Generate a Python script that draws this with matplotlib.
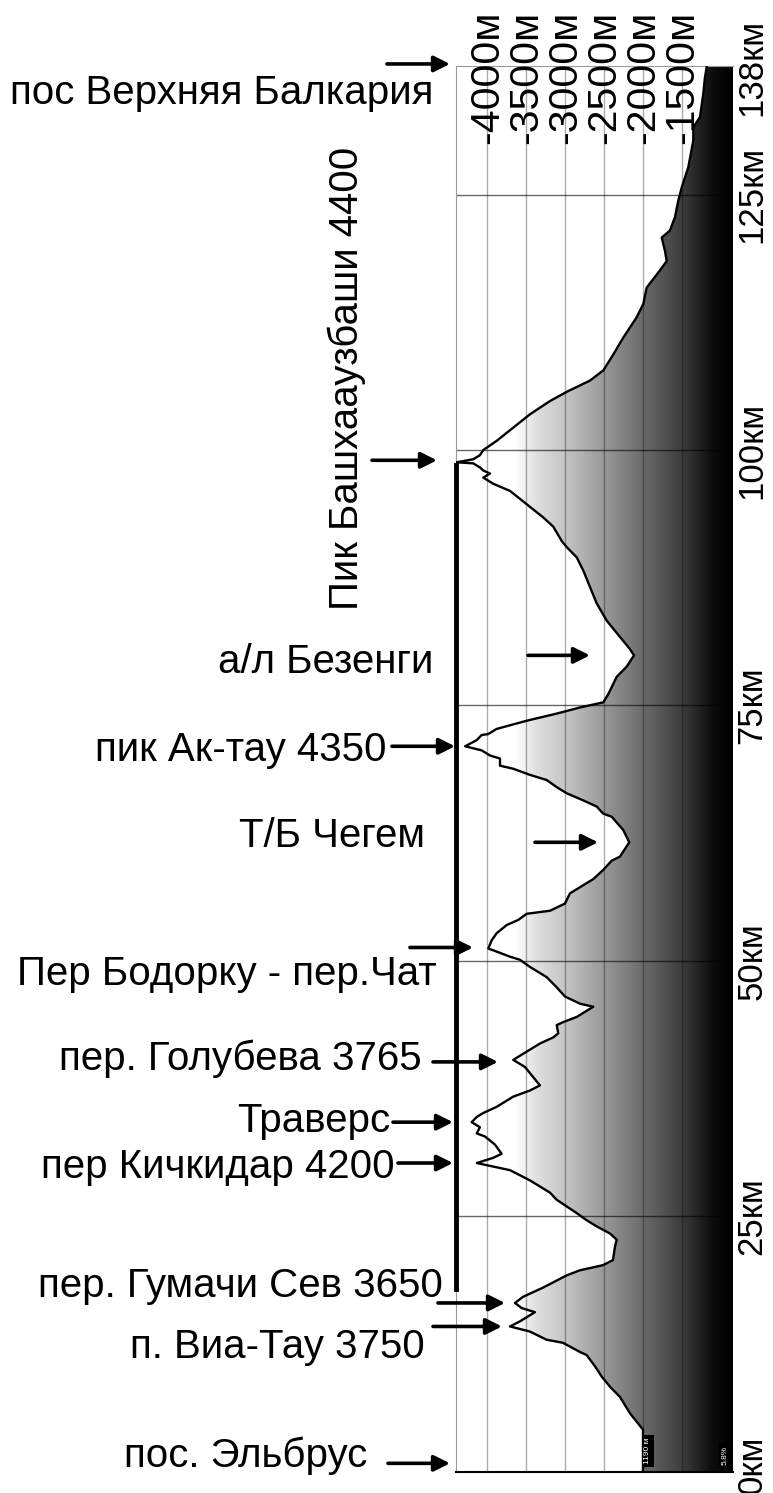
import matplotlib
matplotlib.use("Agg")
import matplotlib.pyplot as plt
import numpy as np
from matplotlib.patches import Polygon
from matplotlib.transforms import blended_transform_factory

plt.rcParams["font.family"] = ["Liberation Sans", "DejaVu Sans"]

# --- profile data: distance along route (km) and elevation (m) ---
dist_km = [0, 2, 4.1, 5.7, 7.3, 8.3, 9.3, 10.3, 11.4, 11.7, 12.6, 12.9, 13.7, 14.2, 14.7,
           15.6, 16.0, 16.5, 17.1, 18.0, 18.7, 19.2, 19.7, 20.2, 20.7, 22.0, 22.7, 23.3,
           24.0, 24.6, 25.3, 26.6, 27.3, 28.5, 29.5, 30.2, 30.7, 31.1, 32.0, 32.4, 32.8,
           33.1, 33.7, 34.2, 34.7, 35.1, 35.7, 36.7, 37.3, 37.8, 38.6, 39.6, 40.3, 40.9,
           41.9, 42.5, 42.9, 43.7, 44.0, 44.5, 45.5, 45.8, 46.5, 47.4, 48.4, 49.4, 50.1,
           50.4, 50.9, 51.2, 52.0, 52.7, 53.5, 54.0, 54.6, 54.9, 55.6, 56.6, 57.2, 58.0,
           58.9, 59.8, 60.2, 61.6, 62.8, 64.1, 64.4, 65.1, 65.7, 66.4, 67.0, 67.7, 68.2,
           68.8, 69.1, 69.8, 70.1, 70.6, 71.0, 71.6, 72.1, 72.2, 72.7, 73.5, 74.2, 74.8,
           75.3, 76.1, 77.8, 78.8, 79.9, 80.6, 81.7, 83.3, 85.0, 86.6, 88.2, 89.5, 90.5,
           91.1, 92.5, 93.4, 94.7, 96.0, 96.7, 97.3, 97.7, 98.0, 98.3, 98.7, 98.8, 99.1,
           99.5, 100.0, 100.9, 102.2, 103.5, 104.8, 105.7, 106.8, 107.8, 109.1, 111.0,
           113.0, 114.3, 115.9, 117.6, 118.5, 119.5, 120.8, 121.5, 122.8, 124.4, 125.7,
           127.7, 130.3, 131.6, 132.6, 134.9, 136.5, 137.5]
elev_m = [2000, 2000, 2000, 2167, 2295, 2423, 2530, 2615, 2722, 2808, 3026, 3235, 3449, 3705, 3577,
          3385, 3555, 3641, 3538, 3282, 3106, 2978, 2808, 2513, 2385, 2359, 2337, 2423,
          2594, 2722, 2850, 3106, 3192, 3449, 3705, 4130, 3923, 3812, 3897, 3962, 4026,
          4132, 4090, 4196, 4132, 4047, 3876, 3663, 3449, 3321, 3406, 3513, 3663, 3535,
          3321, 3150, 3086, 3106, 3022, 2850, 2637, 2808, 3000, 3106, 3235, 3449, 3577,
          3705, 3876, 3983, 3940, 3876, 3747, 3599, 3491, 3192, 3000, 2936, 2808, 2637,
          2509, 2401, 2295, 2176, 2253, 2401, 2509, 2594, 2765, 2978, 3106, 3235, 3449,
          3663, 3833, 3833, 3962, 4068, 4280, 4132, 4068, 3983, 3876, 3491, 3106, 2808,
          2509, 2445, 2337, 2209, 2115, 2176, 2295, 2465, 2594, 2680, 2765, 2850, 2978,
          3042, 3150, 3278, 3491, 3705, 3919, 4047, 3962, 4047, 4090, 4176, 4390, 4176,
          4090, 4047, 3876, 3663, 3449, 3192, 2978, 2680, 2509, 2401, 2253,
          2081, 1996, 1953, 1782, 1696, 1718, 1760, 1654, 1590, 1548, 1504,
          1419, 1355, 1355, 1269, 1227, 1205, 1183]

# axis ticks
elev_ticks = [4000, 3500, 3000, 2500, 2000, 1500]
elev_labels = ["-4000м", "-3500м", "-3000м", "-2500м", "-2000м", "-1500м"]
km_ticks = [0.7, 25, 50, 75, 100, 125, 137.5]
km_labels = ["0км", "25км", "50км", "75км", "100км", "125км", "138км"]
km_grid = [25, 50, 75, 100, 125]

# gradient fill: grey level vs elevation
grad_elev = [846, 1100, 1500, 2000, 2500, 3000, 3350, 3650, 4400]
grad_gray = [0.0, 0.05, 0.24, 0.42, 0.6, 0.77, 0.87, 1.0, 1.0]

# annotations: text, text position (elev, km), arrow tail, arrow head
labels = ["пос Верхняя Балкария", "а/л Безенги", "пик Ак-тау 4350", "Т/Б Чегем",
          "Пер Бодорку - пер.Чат", "пер. Голубева 3765", "Траверс", "пер Кичкидар 4200",
          "пер. Гумачи Сев 3650", "п. Виа-Тау 3750", "пос. Эльбрус"]
label_pos = [(4692, 133.9), (4692, 78.2), (5282, 69.6), (4795, 61.1),
             (4641, 47.6), (4833, 39.3), (5244, 33.2), (5179, 28.7),
             (4564, 17.1), (4800, 11.1), (5537, 0.4)]
arrow_tail = [(5282, 137.8), (3474, 79.9), (5218, 71.0), (3385, 61.6),
              (4987, 51.3), (4692, 40.1), (5205, 34.2), (5141, 30.2),
              (4628, 16.5), (4692, 14.2), (5269, 0.8)]
arrow_head = [(4474, 137.8), (2680, 79.9), (4410, 71.0), (2577, 61.6),
              (4179, 51.3), (3859, 40.1), (4436, 34.2), (4436, 30.2),
              (3769, 16.5), (3808, 14.2), (4474, 0.8)]
peak_label = "Пик Башхааузбаши 4400"

XMAX, XMIN = 4397, 846
YTOP = 137.6

fig = plt.figure(figsize=(7.73, 14.93), dpi=100)
ax = fig.add_axes([456 / 773, 1 - 1471.5 / 1493, 277 / 773, (1471.5 - 66) / 1493])

# gradient fill clipped to the area under the profile
gx = np.linspace(XMAX, XMIN, 800)
gray = np.interp(gx, grad_elev, grad_gray)
im = ax.imshow(np.tile(gray, (2, 1)), cmap="gray", vmin=0, vmax=1,
               extent=(XMAX, XMIN, 0, YTOP), aspect="auto", origin="lower",
               interpolation="bilinear", zorder=1)
verts = np.column_stack([elev_m + [XMIN - 200, XMIN - 200], dist_km + [YTOP + 1, -1]])
clip = Polygon(verts, closed=True, transform=ax.transData, facecolor="none", edgecolor="none")
ax.add_patch(clip)
im.set_clip_path(clip)

# grid
for e in elev_ticks:
    ax.plot([e, e], [0, YTOP], color="black", alpha=0.33, lw=1.0, zorder=2)
for d in km_grid:
    ax.plot([XMAX, 1040], [d, d], color="black", alpha=0.6, lw=1.0, zorder=2)

# profile
ax.plot(elev_m, dist_km, color="black", lw=1.7, zorder=3)

ax.set_xlim(XMAX, XMIN)
ax.set_ylim(0, YTOP)
ax.set_xticks([])
ax.set_yticks([])
for side in ("left", "top"):
    ax.spines[side].set_color("#999999")
    ax.spines[side].set_linewidth(0.8)
ax.spines["right"].set_visible(False)
ax.spines["bottom"].set_color("black")
ax.spines["bottom"].set_linewidth(1.5)

# thick left bar
ax.plot([XMAX, XMAX], [17.9, 98.5], color="black", lw=3.5, zorder=4, clip_on=False)

# elevation labels above the plot
for e, s in zip(elev_ticks, elev_labels):
    ax.text(e, 130.0, s, rotation=90, ha="center", va="bottom", fontsize=29.5,
            zorder=5, clip_on=False)

# km labels on the right
tr = blended_transform_factory(ax.transAxes, ax.transData)
for d, s in zip(km_ticks, km_labels):
    ax.text(1.068, d, s, rotation=90, ha="center", va="center", fontsize=25,
            transform=tr, clip_on=False)

# annotations
arrow_kw = dict(arrowstyle="-|>", color="black", lw=2.6, mutation_scale=24,
                shrinkA=0, shrinkB=0)
for s, (tx, ty) in zip(labels, label_pos):
    ax.text(tx, ty, s, ha="right", va="baseline", fontsize=29, clip_on=False, zorder=5)
for (x0, y0), (x1, y1) in zip(arrow_tail, arrow_head):
    ax.annotate("", xy=(x1, y1), xytext=(x0, y0), arrowprops=arrow_kw,
                annotation_clip=False, zorder=6)

ax.text(5795, 107.0, peak_label, rotation=90, ha="center", va="center", fontsize=29,
        clip_on=False)
ax.annotate("", xy=(4641, 99.0), xytext=(5474, 99.0), arrowprops=arrow_kw,
            annotation_clip=False)

# small marker boxes at the bottom
ax.text(1936, 2.0, "1190 м", rotation=90, ha="center", va="center", fontsize=6,
        color="white", bbox=dict(facecolor="black", edgecolor="none", pad=2), zorder=7)
ax.text(949, 1.6, "5.8%", rotation=90, ha="center", va="center", fontsize=6,
        color="white", bbox=dict(facecolor="black", edgecolor="none", pad=2), zorder=7)

fig.savefig("out.png", dpi=100)
